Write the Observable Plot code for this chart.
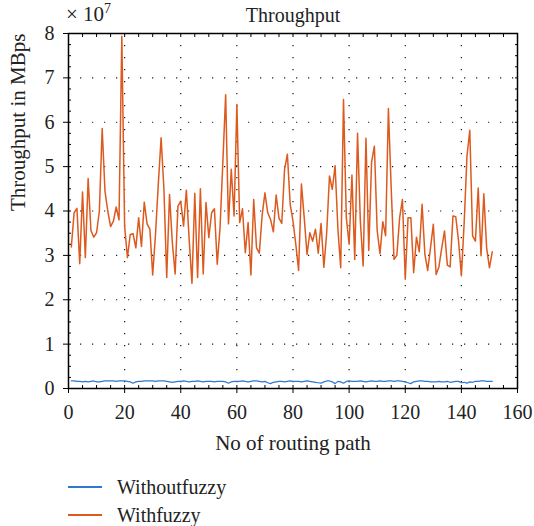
<!DOCTYPE html>
<html>
<head>
<meta charset="utf-8">
<script src="https://cdn.jsdelivr.net/npm/d3@7"></script>
<script src="https://cdn.jsdelivr.net/npm/@observablehq/plot@0.6"></script>
<style>
  html, body { margin: 0; padding: 0; background: #fff; }
  #wrap { position: relative; width: 534px; height: 526px; font-family: "Liberation Serif", "Times New Roman", serif; color: #222; }
  #wrap svg { position: absolute; left: 0; top: 0; font-family: "Liberation Serif", "Times New Roman", serif !important; }
  #wrap svg text { font-family: "Liberation Serif", "Times New Roman", serif !important; }
  .exp { position: absolute; left: 66px; top: 3px; font-size: 21px; line-height: 22px; white-space: nowrap; }
  .exp sup { font-size: 14px; vertical-align: 0; position: relative; top: -8px; }
  .leg { position: absolute; left: 68px; font-size: 20px; line-height: 22px; height: 22px; white-space: nowrap; display: flex; align-items: center; }
  .leg .sw { display: inline-block; width: 34px; height: 1.5px; margin-right: 15px; }
</style>
</head>
<body>
<div id="wrap"></div>
<script>
// Values in units of 10^7 MBps
const pathNo = d3.range(1, 152);
const withFuzzy = [
  3.19, 3.96, 4.06, 2.81, 4.43, 2.95, 4.73, 3.56, 3.41, 3.51,
  4.00, 5.86, 4.45, 4.00, 3.65, 3.77, 4.09, 3.80, 7.94, 3.66,
  2.95, 3.47, 3.49, 3.17, 3.85, 3.20, 4.20, 3.71, 3.59, 2.56,
  3.47, 4.60, 5.65, 4.50, 2.50, 4.37, 3.29, 2.58, 4.11, 4.22,
  3.66, 4.47, 3.36, 2.37, 4.40, 2.50, 4.50, 2.58, 4.19, 3.40,
  3.96, 4.05, 2.80, 3.62, 5.10, 6.62, 3.71, 4.94, 3.89, 6.40,
  3.74, 4.05, 3.06, 3.74, 2.56, 4.26, 3.17, 3.05, 3.90, 4.41,
  3.96, 3.81, 3.53, 4.36, 3.84, 3.72, 4.94, 5.28, 4.15, 3.77,
  3.25, 2.66, 4.61, 3.85, 3.02, 3.51, 3.32, 3.59, 3.05, 3.72,
  2.73, 3.50, 4.79, 4.49, 5.02, 3.60, 2.72, 6.51, 3.85, 3.25,
  4.81, 2.91, 5.75, 3.77, 2.76, 5.64, 3.11, 5.10, 5.46, 3.56,
  3.04, 3.76, 3.44, 6.31, 4.50, 2.91, 3.00, 3.85, 4.26, 2.46,
  3.85, 3.85, 2.61, 3.41, 3.08, 4.15, 3.02, 2.66, 3.17, 3.70,
  2.57, 2.74, 3.17, 3.55, 2.78, 2.74, 3.89, 3.87, 3.32, 2.54,
  3.74, 5.24, 5.82, 3.44, 3.32, 4.52, 2.99, 4.39, 3.17, 2.72,
  3.08
];
const withoutFuzzy = [
  0.17, 0.17, 0.16, 0.16, 0.15, 0.16, 0.15, 0.16, 0.17, 0.15,
  0.15, 0.16, 0.17, 0.17, 0.17, 0.17, 0.16, 0.17, 0.17, 0.17,
  0.16, 0.15, 0.12, 0.15, 0.16, 0.16, 0.17, 0.17, 0.17, 0.17,
  0.16, 0.17, 0.17, 0.17, 0.16, 0.15, 0.14, 0.15, 0.16, 0.16,
  0.17, 0.16, 0.15, 0.16, 0.16, 0.17, 0.16, 0.15, 0.16, 0.16,
  0.16, 0.15, 0.16, 0.16, 0.16, 0.15, 0.12, 0.15, 0.16, 0.16,
  0.16, 0.17, 0.16, 0.15, 0.16, 0.17, 0.17, 0.16, 0.15, 0.16,
  0.13, 0.11, 0.14, 0.15, 0.16, 0.16, 0.15, 0.16, 0.17, 0.16,
  0.16, 0.16, 0.15, 0.16, 0.17, 0.16, 0.15, 0.14, 0.13, 0.12,
  0.15, 0.17, 0.17, 0.15, 0.11, 0.16, 0.15, 0.12, 0.16, 0.17,
  0.16, 0.16, 0.16, 0.17, 0.16, 0.15, 0.16, 0.17, 0.16, 0.16,
  0.17, 0.16, 0.16, 0.17, 0.17, 0.16, 0.17, 0.17, 0.16, 0.15,
  0.13, 0.11, 0.15, 0.16, 0.17, 0.17, 0.16, 0.16, 0.15, 0.15,
  0.15, 0.16, 0.15, 0.15, 0.16, 0.14, 0.15, 0.16, 0.16, 0.13,
  0.14, 0.12, 0.15, 0.14, 0.16, 0.16, 0.17, 0.17, 0.16, 0.16,
  0.16
];
const xTicks = [0, 20, 40, 60, 80, 100, 120, 140, 160];
const yTicks = [0, 1, 2, 3, 4, 5, 6, 7, 8];
const xMinor = d3.range(0, 161, 5);
const yMinor = d3.range(0, 8.01, 0.25);
const seriesNames = ["Withoutfuzzy", "Withfuzzy"];
const seriesColors = ["#2f78cc", "#dd5a1e"];
const titleText = "Throughput";
const xLabel = "No of routing path";
const yLabel = "Throughput in MBps";
const serif = "'Liberation Serif', 'Times New Roman', serif";

const chart = Plot.plot({
  width: 534,
  height: 455,
  marginTop: 33,
  marginRight: 17,
  marginBottom: 67,
  marginLeft: 68,
  style: { fontFamily: serif, fontSize: "20px", color: "#222", background: "transparent", overflow: "visible" },
  x: { domain: [0, 160] },
  y: { domain: [0, 8] },
  marks: [
    Plot.gridX(xTicks.slice(1, -1), { stroke: "#000", strokeOpacity: 0.9, strokeWidth: 1.2, strokeDasharray: "1.2,10.8" }),
    Plot.gridY(yTicks.slice(1, -1), { stroke: "#000", strokeOpacity: 0.9, strokeWidth: 1.2, strokeDasharray: "1.2,10.8" }),
    Plot.lineY(withoutFuzzy, { x: (d, i) => pathNo[i], y: d => d, stroke: seriesColors[0], strokeWidth: 1.2 }),
    Plot.lineY(withFuzzy, { x: (d, i) => pathNo[i], y: d => d, stroke: seriesColors[1], strokeWidth: 1.5 }),
    Plot.frame({ stroke: "#000", strokeWidth: 1.5 }),
    Plot.axisX(xTicks, { anchor: "bottom", tickSize: 5, tickPadding: 11, label: null, fontSize: 20, fontFamily: serif, stroke: "#000" }),
    Plot.axisY(yTicks, { anchor: "left", tickSize: 5, tickPadding: 9, label: null, fontSize: 20, fontFamily: serif, stroke: "#000" }),
    Plot.axisX(xMinor, { anchor: "bottom", tickSize: 3, dy: -3, text: null, label: null, stroke: "#000" }),
    Plot.axisX(xMinor, { anchor: "top", tickSize: 3, dy: 3, text: null, label: null, stroke: "#000" }),
    Plot.axisY(yMinor, { anchor: "left", tickSize: 3, dx: 3, text: null, label: null, stroke: "#000" }),
    Plot.axisY(yMinor, { anchor: "right", tickSize: 3, dx: -3, text: null, label: null, stroke: "#000" }),
    Plot.text([titleText], { frameAnchor: "top", dy: -18, text: d => d, fontSize: 20, fontFamily: serif, lineAnchor: "middle", fill: "#222" }),
    Plot.text([xLabel], { frameAnchor: "bottom", dy: 55, text: d => d, fontSize: 21, fontFamily: serif, lineAnchor: "middle", fill: "#222" }),
    Plot.text([yLabel], { frameAnchor: "left", dx: -50, rotate: -90, text: d => d, fontSize: 21, fontFamily: serif, lineAnchor: "middle", fill: "#222" })
  ]
});

const wrap = document.getElementById("wrap");
wrap.appendChild(chart);

const exp = document.createElement("div");
exp.className = "exp";
exp.innerHTML = "× 10<sup>7</sup>";
wrap.appendChild(exp);

const legendY = [476, 504];
seriesNames.forEach((name, i) => {
  const row = document.createElement("div");
  row.className = "leg";
  row.style.top = legendY[i] + "px";
  const sw = document.createElement("span");
  sw.className = "sw";
  sw.style.background = seriesColors[i];
  row.appendChild(sw);
  const t = document.createElement("span");
  t.textContent = name;
  row.appendChild(t);
  wrap.appendChild(row);
});
</script>
</body>
</html>
